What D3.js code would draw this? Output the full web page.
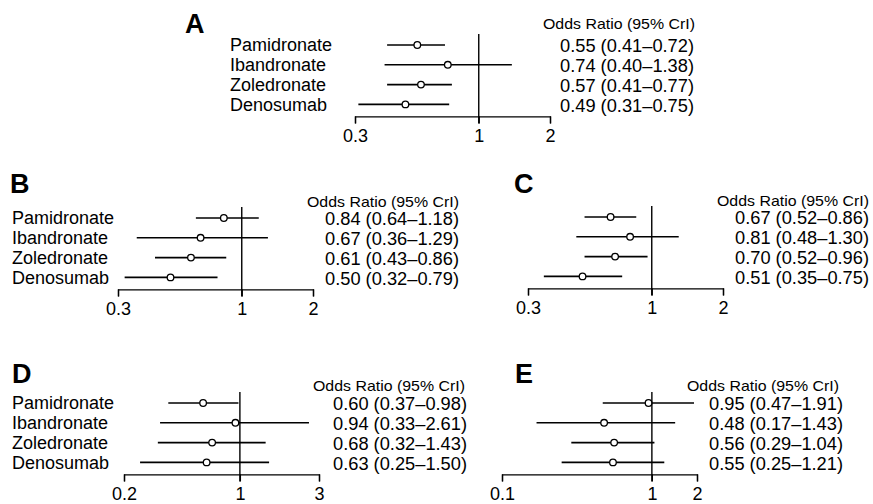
<!DOCTYPE html>
<html>
<head>
<meta charset="utf-8">
<script src="https://cdn.jsdelivr.net/npm/d3@7"></script>
<style>
  body { margin: 0; background: #fff; }
  svg { font-family: "Liberation Sans", Arial, sans-serif; }
</style>
</head>
<body>
<svg id="chart" width="873" height="504"></svg>
<script>
// data
const drugs = ["Pamidronate", "Ibandronate", "Zoledronate", "Denosumab"];
const header = "Odds Ratio (95% CrI)";

const orA = [0.55, 0.74, 0.57, 0.49], loA = [0.41, 0.40, 0.41, 0.31], hiA = [0.72, 1.38, 0.77, 0.75];
const orB = [0.84, 0.67, 0.61, 0.50], loB = [0.64, 0.36, 0.43, 0.32], hiB = [1.18, 1.29, 0.86, 0.79];
const orC = [0.67, 0.81, 0.70, 0.51], loC = [0.52, 0.48, 0.52, 0.35], hiC = [0.86, 1.30, 0.96, 0.75];
const orD = [0.60, 0.94, 0.68, 0.63], loD = [0.37, 0.33, 0.32, 0.25], hiD = [0.98, 2.61, 1.43, 1.50];
const orE = [0.95, 0.48, 0.56, 0.55], loE = [0.47, 0.17, 0.29, 0.25], hiE = [1.91, 1.43, 1.04, 1.21];

const ticksA = [0.3, 1, 2], ticksB = [0.3, 1, 2], ticksC = [0.3, 1, 2];
const ticksD = [0.2, 1, 3], ticksE = [0.1, 1, 2];

// layout of each panel
const panels = [
  { id: "A", or: orA, lo: loA, hi: hiA, ticks: ticksA, x0: 355, row0: 45, labelX: 230, letterX: 185, letterY: 33, headX: 543, headY: 24, valX: 560 },
  { id: "B", or: orB, lo: loB, hi: hiB, ticks: ticksB, x0: 118, row0: 218, labelX: 12, letterX: 10, letterY: 193, headX: 307, headY: 202, valX: 325 },
  { id: "C", or: orC, lo: loC, hi: hiC, ticks: ticksC, x0: 528, row0: 217, labelX: null, letterX: 514, letterY: 193, headX: 717, headY: 201, valX: 735 },
  { id: "D", or: orD, lo: loD, hi: hiD, ticks: ticksD, x0: 124, row0: 403, labelX: 12, letterX: 12, letterY: 383, headX: 313, headY: 386, valX: 333 },
  { id: "E", or: orE, lo: loE, hi: hiE, ticks: ticksE, x0: 502, row0: 403, labelX: null, letterX: 515, letterY: 383, headX: 687, headY: 386, valX: 709 }
];

const axisW = 195, step = 19.8;
const svg = d3.select("#chart");
const f2 = d3.format(".2f");

panels.forEach(p => {
  const g = svg.append("g");
  const x = d3.scaleLog()
    .domain([p.ticks[0], p.ticks[p.ticks.length - 1]])
    .range([p.x0, p.x0 + axisW]);
  const y = d3.scalePoint()
    .domain(drugs)
    .range([p.row0, p.row0 + step * (drugs.length - 1)]);
  const axisY = y(drugs[drugs.length - 1]) + 12;

  // panel letter
  g.append("text")
    .attr("x", p.letterX)
    .attr("y", p.letterY)
    .style("font-size", "27px")
    .style("font-weight", "bold")
    .text(p.id);

  // reference line at 1
  g.append("line")
    .attr("x1", x(1)).attr("x2", x(1))
    .attr("y1", p.row0 - 11).attr("y2", axisY + 7)
    .attr("stroke", "#000")
    .attr("stroke-width", 1.4);

  // axis
  const ax = g.append("g")
    .attr("transform", `translate(0, ${axisY})`)
    .call(d3.axisBottom(x).tickValues(p.ticks).tickFormat(d => d).tickSize(7).tickSizeOuter(7).tickPadding(6));
  ax.selectAll("path, line").attr("stroke", "#000").attr("stroke-width", 1.3);
  ax.selectAll("text").attr("fill", "#000").style("font-size", "18px")
    .style("font-family", "'Liberation Sans', Arial, sans-serif");

  // CI lines
  g.selectAll(".ci")
    .data(drugs)
    .join("line")
    .attr("x1", (d, i) => x(p.lo[i]))
    .attr("x2", (d, i) => x(p.hi[i]))
    .attr("y1", d => y(d)).attr("y2", d => y(d))
    .attr("stroke", "#000")
    .attr("stroke-width", 1.6);

  // point estimates
  g.selectAll(".pt")
    .data(drugs)
    .join("circle")
    .attr("cx", (d, i) => x(p.or[i]))
    .attr("cy", d => y(d))
    .attr("r", 3.3)
    .attr("fill", "#fff")
    .attr("stroke", "#000")
    .attr("stroke-width", 1.3);

  // drug labels
  if (p.labelX !== null) {
    g.selectAll(".lab")
      .data(drugs)
      .join("text")
      .attr("x", p.labelX)
      .attr("y", d => y(d))
      .attr("dy", "0.35em")
      .style("font-size", "18px")
      .attr("textLength", 103)
      .attr("lengthAdjust", "spacingAndGlyphs")
      .text(d => d)
      .attr("textLength", null);
  }

  // header
  g.append("text")
    .attr("x", p.headX)
    .attr("y", p.headY)
    .attr("dy", "0.35em")
    .style("font-size", "15px")
    .attr("textLength", 152)
    .attr("lengthAdjust", "spacingAndGlyphs")
    .text(header);

  // value text
  g.selectAll(".val")
    .data(drugs)
    .join("text")
    .attr("x", p.valX)
    .attr("y", d => y(d) + 1)
    .attr("dy", "0.35em")
    .style("font-size", "17.5px")
    .attr("textLength", 134)
    .attr("lengthAdjust", "spacingAndGlyphs")
    .text((d, i) => `${f2(p.or[i])} (${f2(p.lo[i])}\u2013${f2(p.hi[i])})`);
});
</script>
</body>
</html>
